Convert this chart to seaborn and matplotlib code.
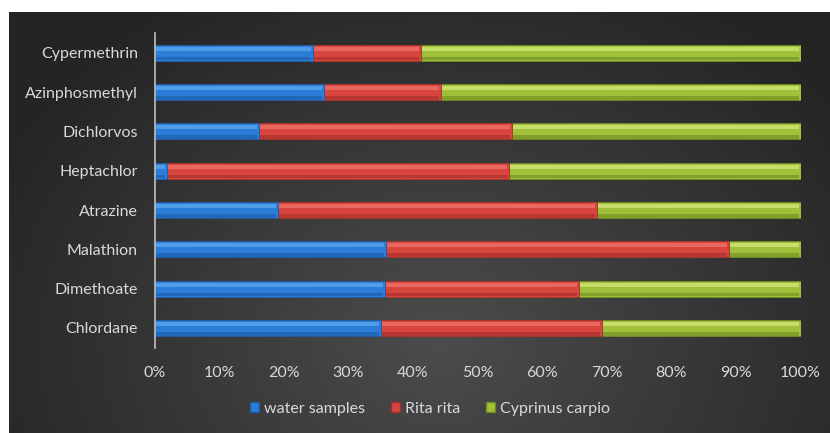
import numpy as np
import pandas as pd
import matplotlib
matplotlib.use("Agg")
import matplotlib.pyplot as plt
from matplotlib.patches import Patch, Rectangle
import seaborn as sns

categories = ["Cypermethrin", "Azinphosmethyl", "Dichlorvos", "Heptachlor",
              "Atrazine", "Malathion", "Dimethoate", "Chlordane"]
water_samples = [24.5, 26.2, 16.2, 1.9, 19.1, 35.9, 35.7, 35.1]
rita_rita = [16.8, 18.2, 39.1, 53.0, 49.4, 53.0, 30.0, 34.2]
cyprinus_carpio = [58.7, 55.6, 44.7, 45.1, 31.5, 11.1, 34.3, 30.7]
series_names = ["water samples", "Rita rita", "Cyprinus carpio"]
tick_values = [0, 10, 20, 30, 40, 50, 60, 70, 80, 90, 100]

colors = {"water samples": ("#2c7dd8", "#62adf2", "#1a5aa3"),
          "Rita rita": ("#d8453f", "#f47a72", "#a32f2c"),
          "Cyprinus carpio": ("#a1c03a", "#dcee84", "#6f8a22")}

sns.set_theme(style="white")
plt.rcParams["font.family"] = ["Lato", "DejaVu Sans"]
text_col = "#d9d9d9"

fig = plt.figure(figsize=(8.3, 4.33), dpi=100, facecolor="white")

# background radial gradient panel
bg = fig.add_axes([9 / 830, 0, 821 / 830, 421 / 433], zorder=-10)
H, W = 421, 821
yy, xx = np.mgrid[0:H, 0:W]
cx, cy = 430, 330
r = np.sqrt(((xx - cx) / 1.05) ** 2 + ((yy - cy) / 0.85) ** 2)
t = np.clip(r / 480.0, 0, 1)
inner = np.array([0x4c, 0x4c, 0x4c]) / 255
outer = np.array([0x24, 0x24, 0x24]) / 255
img = inner[None, None, :] * (1 - t[..., None]) + outer[None, None, :] * t[..., None]
bg.imshow(img, aspect="auto", interpolation="bilinear")
bg.set_axis_off()

ax = fig.add_axes([154.5 / 830, 1 - 347.6 / 433, 646 / 830, (347.6 - 33.1) / 433])
ax.set_facecolor("none")

df = pd.DataFrame({"category": categories,
                   "water samples": water_samples,
                   "Rita rita": rita_rita,
                   "Cyprinus carpio": cyprinus_carpio})
df["c1"] = df["water samples"]
df["c2"] = df["c1"] + df["Rita rita"]
df["c3"] = df["c2"] + df["Cyprinus carpio"]

order = [("Cyprinus carpio", "c3"), ("Rita rita", "c2"), ("water samples", "c1")]
for name, col in order:
    n_before = len(ax.patches)
    base, light, dark = colors[name]
    sns.barplot(data=df, x=col, y="category", orient="h", color=base,
                width=0.41, saturation=1, ax=ax, edgecolor=dark, linewidth=0.6)
    new = list(ax.patches[n_before:])
    for p in new:
        x0, y0, w, h = p.get_x(), p.get_y(), p.get_width(), p.get_height()
        ax.add_patch(Rectangle((x0 + 0.3, y0 + 0.12 * h), max(w - 0.6, 0), 0.26 * h,
                               facecolor=light, edgecolor="none", alpha=0.65))
        ax.add_patch(Rectangle((x0 + 0.3, y0 + 0.75 * h), max(w - 0.6, 0), 0.22 * h,
                               facecolor=dark, edgecolor="none", alpha=0.6))

ax.set_xlim(0, 100)
ax.set_ylim(len(categories) - 0.5, -0.5)
ax.set_xticks(tick_values)
ax.set_xticklabels([f"{v}%" for v in tick_values])
ax.set_xlabel("")
ax.set_ylabel("")
ax.tick_params(axis="x", length=0, pad=13, labelsize=11.5, labelcolor=text_col)
ax.tick_params(axis="y", length=0, pad=12, labelsize=11.5, labelcolor=text_col)
for s in ["top", "right", "bottom"]:
    ax.spines[s].set_visible(False)
ax.spines["left"].set_color("#bfbfbf")
ax.spines["left"].set_linestyle((0, (1, 1)))
ax.spines["left"].set_linewidth(1.2)
ax.grid(False)

handles = [Patch(facecolor=colors[n][0], edgecolor=colors[n][2], label=n) for n in series_names]
fig.legend(handles=handles, loc="center", bbox_to_anchor=(430 / 830, 1 - 409 / 433),
           ncol=3, frameon=False, fontsize=11.5, labelcolor=text_col,
           handlelength=0.6, handleheight=0.6, handletextpad=0.3, columnspacing=1.6)

fig.savefig("out.png", dpi=100, facecolor="white")
